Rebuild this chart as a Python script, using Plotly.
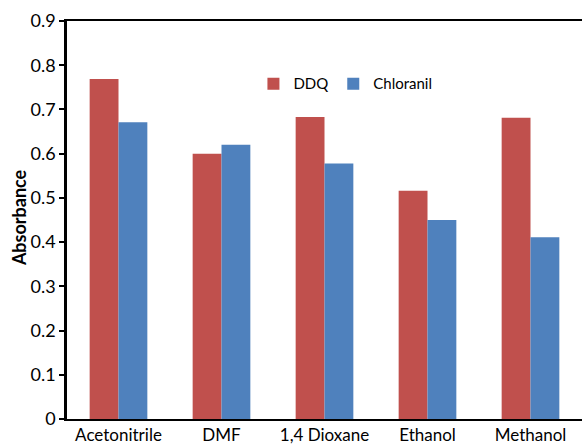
import plotly.graph_objects as go

solvents = ["Acetonitrile", "DMF", "1,4 Dioxane", "Ethanol", "Methanol"]
ddq = [0.769, 0.600, 0.683, 0.516, 0.681]
chloranil = [0.671, 0.620, 0.578, 0.450, 0.411]
y_ticks = [0, 0.1, 0.2, 0.3, 0.4, 0.5, 0.6, 0.7, 0.8, 0.9]
y_tick_text = ["0", "0.1", "0.2", "0.3", "0.4", "0.5", "0.6", "0.7", "0.8", "0.9"]

FONT = "Lato, Open Sans, sans-serif"

fig = go.Figure()
fig.add_trace(go.Bar(name="DDQ", x=solvents, y=ddq,
                     marker=dict(color="#C0504D", line=dict(width=0))))
fig.add_trace(go.Bar(name="Chloranil", x=solvents, y=chloranil,
                     marker=dict(color="#4F81BD", line=dict(width=0))))

fig.update_layout(
    width=582, height=446,
    margin=dict(l=67, r=0, t=21, b=27, autoexpand=False),
    paper_bgcolor="white", plot_bgcolor="white",
    barmode="group", bargap=0.44, bargroupgap=0,
    font=dict(family=FONT, color="black", size=16),
    legend=dict(orientation="h", x=0.362, y=0.842, xanchor="left", yanchor="middle",
                font=dict(family=FONT, size=15), bgcolor="rgba(0,0,0,0)",
                itemwidth=30, traceorder="normal"),
    showlegend=True,
)
fig.update_xaxes(showline=True, linecolor="black", linewidth=2, mirror=True,
                 ticks="", showgrid=False, tickfont=dict(size=17, family=FONT))
fig.update_yaxes(range=[0, 0.9], tickvals=y_ticks, ticktext=y_tick_text,
                 showline=True, linecolor="black", linewidth=2.5,
                 ticks="outside", ticklen=5, tickwidth=2, tickcolor="black",
                 showgrid=False, zeroline=False,
                 tickfont=dict(size=18, family=FONT))

# y-axis title placed as a rotated annotation left of the tick labels
fig.add_annotation(text="<b>Absorbance</b>", xref="paper", yref="paper",
                   x=-0.093, y=0.505, xanchor="center", yanchor="middle",
                   textangle=-90, showarrow=False,
                   font=dict(size=18, family=FONT, color="black"))

fig.write_html("out.html")
